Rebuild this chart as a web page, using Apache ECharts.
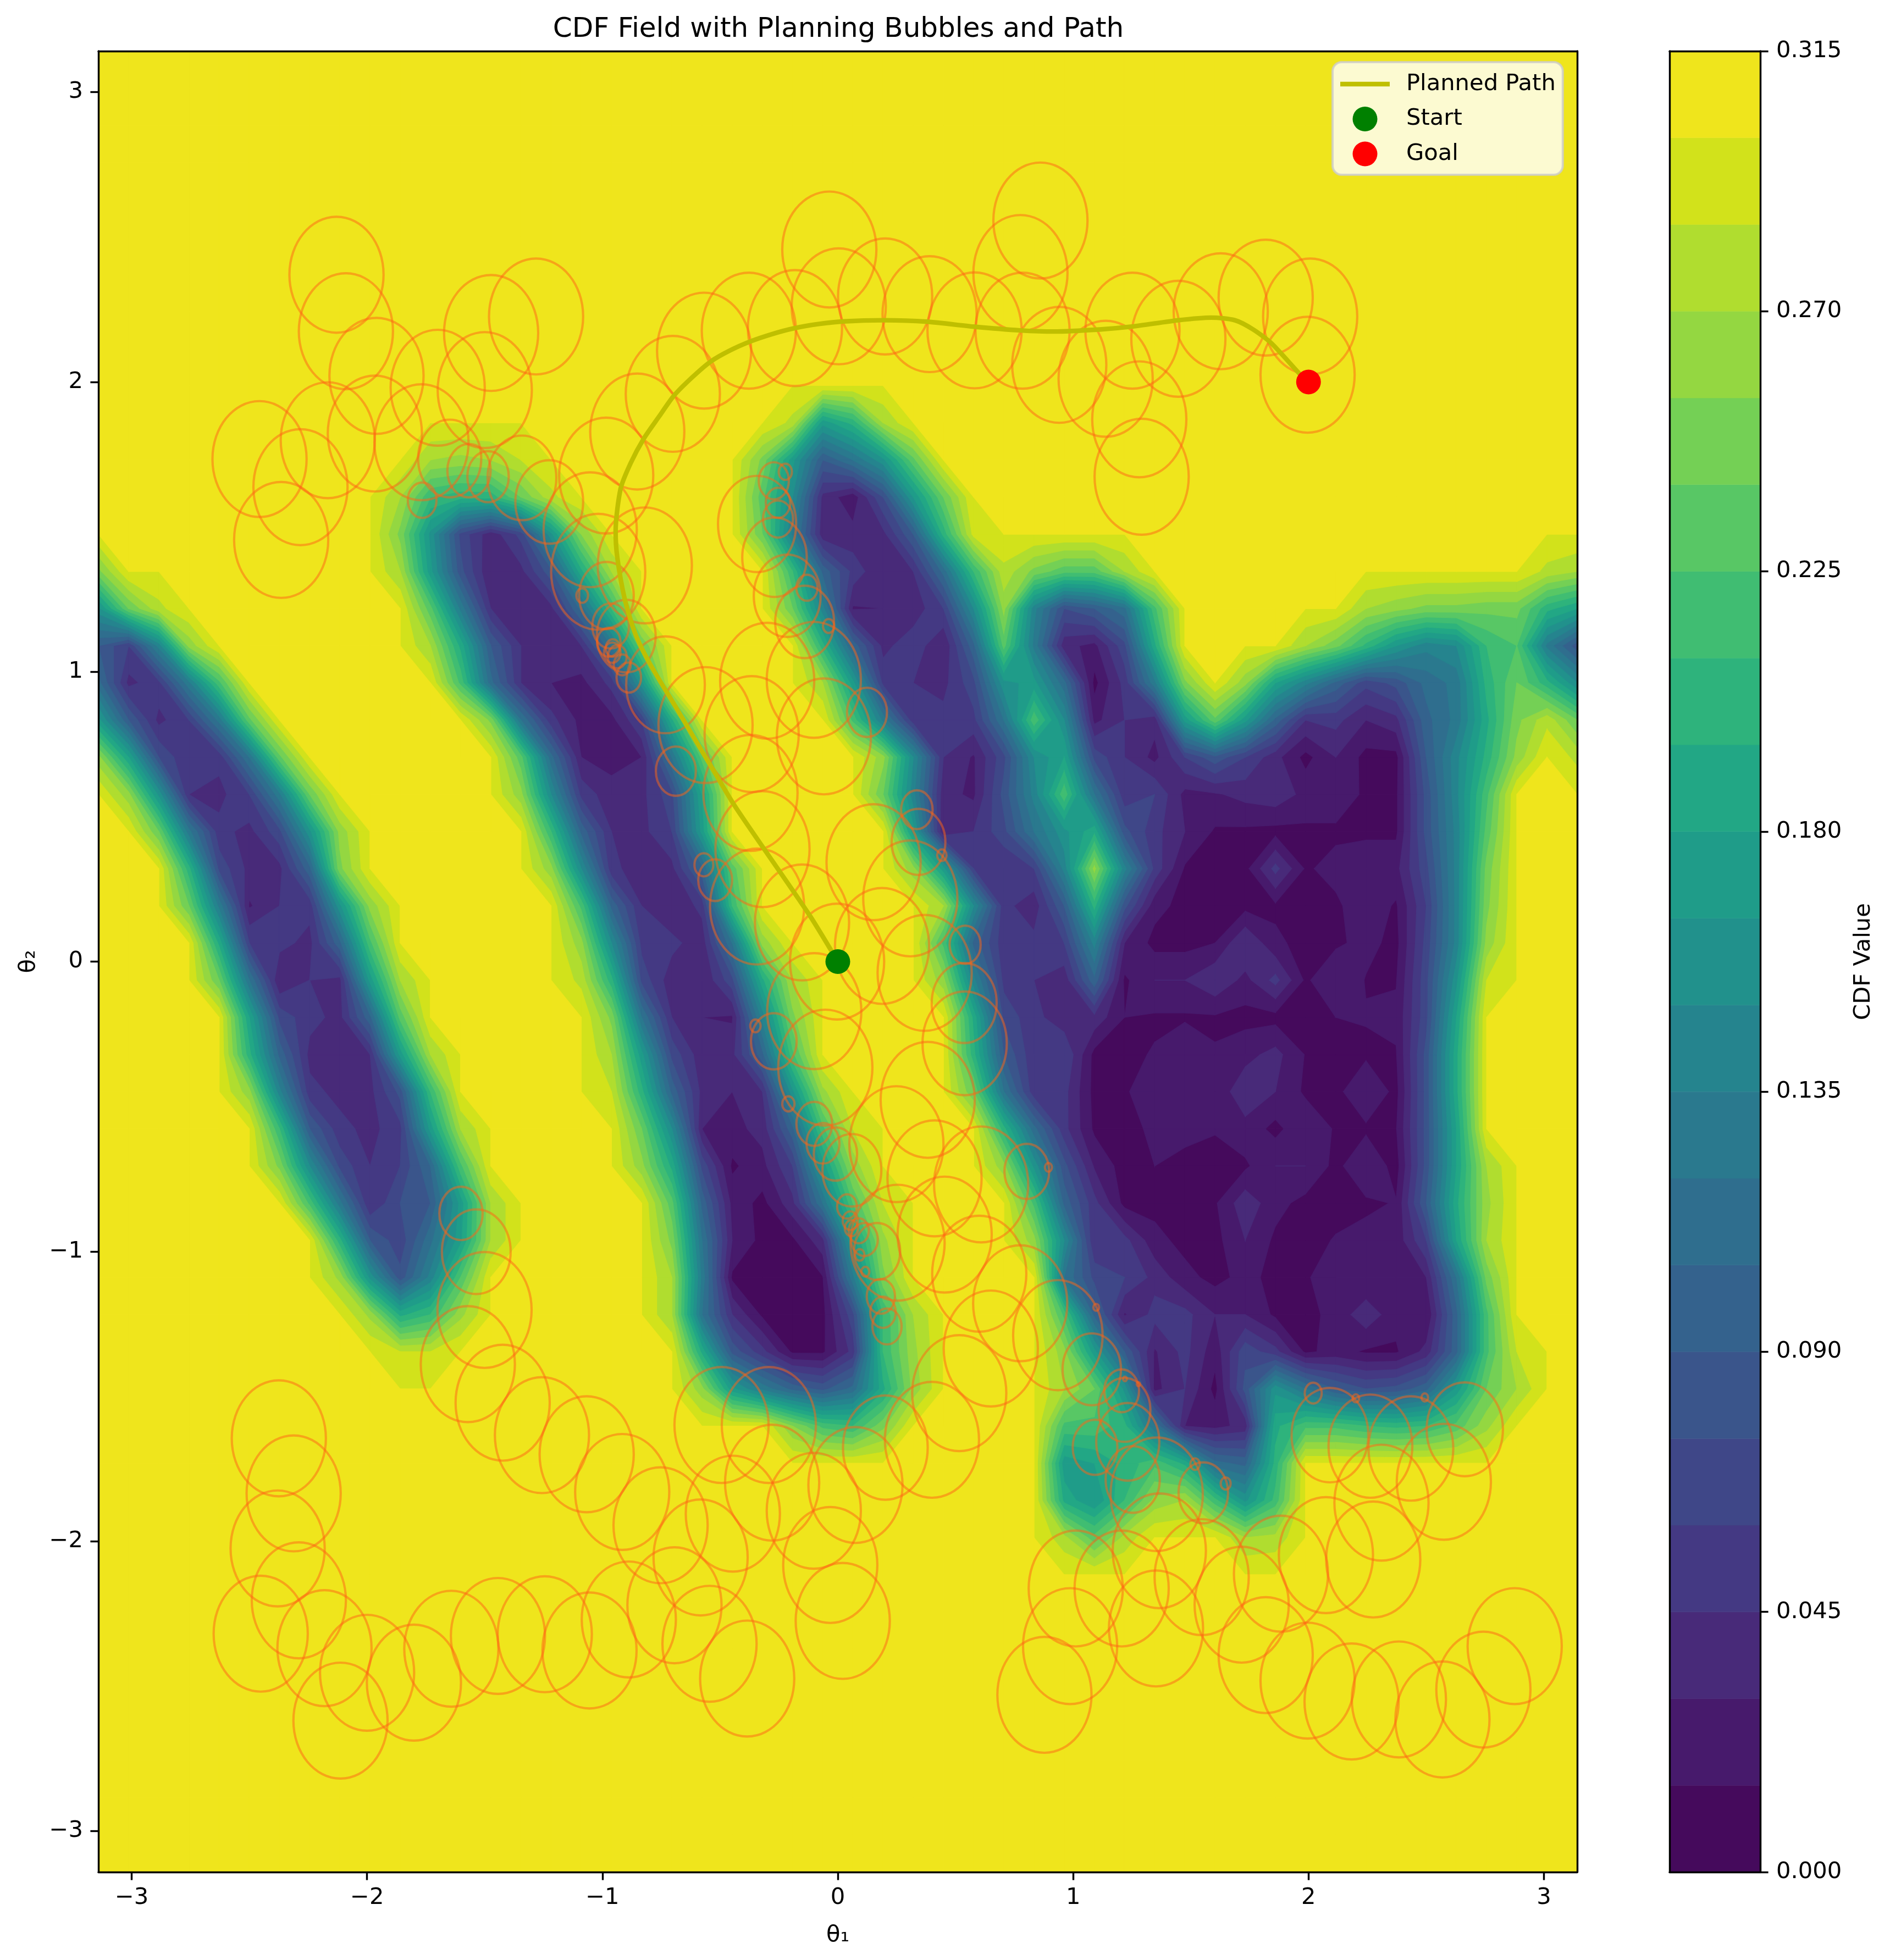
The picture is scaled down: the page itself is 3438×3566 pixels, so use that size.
<!DOCTYPE html>
<html><head><meta charset="utf-8"><style>html,body{margin:0;padding:0;background:#fff}#c{width:3438px;height:3566px}</style>
<script src="https://cdn.jsdelivr.net/npm/echarts@6/dist/echarts.min.js"></script></head><body><div id="c"></div>
<script>
// CDF field, in units of 0.01. Grid is 50x50 over [-pi,pi]^2.
// Each row lists runs [firstColumn, v, v, ...]; every other node sits at the saturation value.
const saturation = 30;
const r09=[[32,27.5,23,27.5],[38,27,27.5]];
const r10=[[32,19,16.5,21,26,27,21.5,16,21.5]];
const r11=[[32,17,18,20,22,19,11,10,20]];
const r12=[[23,25.5,22,21,25],[32,22,22,20,12,3,2.5,3.5,19,22,22,21,20.5,21,23,26.5]];
const r13=[[20,26,17,13,10,8.5,11,19,26],[32,27,24,16,2.5,4.5,1,8,16,12,9,7.5,8,10,17,24,27]];
const r14=[[10,28.5,28.5],[20,19,8.5,5,1.2,1.2,5,21,26.5],[32,26,17,9,2.8,5,2,7,5,1.2,2,1.3,1.3,3.5,10,22,28.5]];
const r15=[[9,26.5,19,21,26.5],[19,27,12,4.5,1.2,1,1,7,21,27],[32,22,10,2.8,5,5,3,3,1.2,1,2,4,2,1.5,10,22]];
const r16=[[8,26.5,16,8,14,22.5],[19,27,13,1.2,1,1,1.4,13,25],[32,12,7,6,4,2,1,2,1,1.2,3,1.5,2,3,12,24.5]];
const r17=[[8,20,9,6.5,11.5,17.5,27],[19,25,12,3,1,1.2,4,17,26.5],[31,26,15,4.5,5,2,1,1,3,1.2,1,1.6,2,2,6,18,27]];
const r18=[[7,22,12.5,4.5,7.5,9,17,27],[19,23,10,2.5,1,4,12,22.5,28.5],[31,22,10,5,1,1,1,1.3,4,2,1,1,1.2,1.6,9,19,26.5]];
const r19=[[6,25,15,7,4.5,6,10.5,22],[18,26,19,7,1.2,2.5,6,17,26],[30,26,16,8,2.8,.8,1.5,1,1,1.2,3,3,1,3,.8,8,18,27]];
const r20=[[6,21,9,5,4,5.5,17,27],[18,24,15,3,2.5,3.5,10,22,28.5],[30,20,11,5,1.2,1,1.8,2,1.6,2.5,1,2.8,1.3,1.2,1.4,8,18]];
const r21=[[5,26,14,5,4,4,8,21],[17,28.5,20,10,4,3,4.5,16,26.5],[29,24,12,5,5,1,1.2,3,2,2,4,3,1.2,1,3,1,8,19]];
const r22=[[5,20,10,4,3.5,4.5,17,27],[17,27,17,7,3.5,4,10,22],[29,20,9,4.8,6,1,1.2,1.6,2.8,1.6,2.5,3.5,1.4,1,1.2,1.4,8,19]];
const r23=[[5,18,7,5,4,10,23],[17,25,12,4.5,3,2.8,14,25],[29,19,7,5,3.5,4,1.5,1.3,1.3,1.3,1,1,1,1.5,1.6,1.8,7,18]];
const r24=[[4,24,12,3,4.5,4,17,27],[16,28,20,7,3.5,3,7,19,27],[28,26,14,5.5,4.5,3.5,10,1.2,3,3,4.3,2.5,5,1.2,3,1.4,1.4,7,16,28.5]];
const r25=[[4,19,6,5,4,10,22],[16,26,15,5.5,5,3.5,12,26],[28,22,10,5,5,6,14,3,1,1,1.5,4.5,1.8,1,1.2,2,1,6.5,14,26]];
const r26=[[3,24,13,2.8,4.5,5,16,26],[16,22,10,4.5,3,5,21],[28,27,15,5,3.5,9,20,8,2,1,1,1,1.2,1,1.2,2.5,1.3,6,14,25]];
const r27=[[3,20,7,4,4,10,25],[15,26,15,5,3.5,4,10,23],[27,26,17,6,4.5,6,14,26,14,5.5,1.3,1,1,5,1.3,2,2.5,2.5,7,14,24.5]];
const r28=[[2,24,12.5,5,4,7,16,26],[15,21,10,4.5,4,6,17],[27,17,3,4.5,7,12,16,19,8,5,3,1.3,1.2,1,1.2,1.2,1.2,1.2,8,14,23]];
const r29=[[1,26,16,4.5,4,6,13,24],[14,26,15,5.5,3.5,4,7,18],[26,24,14,3.5,2.7,8,14,22,12,5,6,2.5,2.8,3.5,4,2.5,2.5,1.2,1.2,8,14.5,22]];
const r30=[[0,26,18,7.5,4.5,5,12,23.5],[14,23,11,3,2.5,3,12,23],[26,26,15,4.5,2.8,7,15,18,7,4.5,2.5,6,8.5,6,3.5,1,3,1,1,9,14.5,20,26],[49,28]];
const r31=[[0,17,9,4,6,12.5,23.5],[13,25,12,5,2.5,2.5,6,19],[25,22,13,5,5,5.5,12,22,15,2.5,4.5,3.5,17,23.5,17,10,4.5,5,3,4,10,12.5,19,25,28,24]];
const r32=[[0,11,4,5.5,13,22],[12,22,11,4.5,3,2.5,5,16],[24,27,17,5.5,4.5,4,7,16,17,11,1,5,13,25],[38,26,18,14,10,6.5,8,11,12.5,20,24,20,15]];
const r33=[[0,9,6,14,26],[11,27,19,9,4.5,3,4.5,12,24],[24,20,10,4,5.5,3,10,23,13,3.5,2.5,7,19],[40,27,24.5,20.5,16.5,14,15,21,22.5,13,8]];
const r34=[[0,16,24,28],[11,23,13,4.5,4,4,11,21],[23,24,14,2.8,3,3.5,6,15,26,14,7.5,9,11.5,22],[42,27,26,25,25,24.5,24.5,20,18]];
const r35=[[0,25],[10,27,17,8,3,4,8.5,19,27],[23,21,10,5.5,3,4.5,11,21,28,25,23,23,27],[48,28,27]];
const r36=[[10,25,16,7,3.5,6.5,16,25.5],[22,24,13,3.5,3.5,4,9,20,29]];
const r37=[[10,27,21,20,20,24,28],[22,23,15,4,2,7.5,16.5,24]];
const r38=[[11,27,26.5,27,28.5],[22,25,17,9,12,16,23.5]];
const r39=[[23,28,17,20,27]];
const fieldRows={9:r09,10:r10,11:r11,12:r12,13:r13,14:r14,15:r15,16:r16,17:r17,18:r18,19:r19,20:r20,21:r21,22:r22,23:r23,24:r24,25:r25,26:r26,27:r27,28:r28,29:r29,30:r30,31:r31,32:r32,33:r33,34:r34,35:r35,36:r36,37:r37,38:r38,39:r39};

// Contour levels (units of 0.01) and the colour of the band starting at each level.
const bandColors=['#450a5c','#471a6c','#482a79','#443983','#3f4788','#3a558b','#34628d','#2f6e8e','#2a798e','#25848e','#21918c','#1f9c89','#22a785','#2eb37c','#40bd72','#58c765','#74d055','#94d741','#b0dd2f','#d2e21b','#efe51c'];
const levelStep=1.5;

// Path
const pathT1=[0,-.12,-.322,-.44,-.541,-.69,-.8,-.86,-.905,-.937,-.944,-.923,-.88,-.824,-.76,-.697,-.62,-.541,-.46,-.371,-.28,-.187,-.08,.025,.195,.379,.577,.775,.917,1.112,1.249,1.447,1.588,1.687,1.765,1.843,1.97,2];
const pathT2=[0,.16,.399,.54,.677,.88,1.03,1.13,1.25,1.395,1.485,1.631,1.72,1.805,1.88,1.952,2.015,2.07,2.108,2.14,2.165,2.185,2.2,2.209,2.213,2.208,2.191,2.178,2.174,2.181,2.191,2.213,2.222,2.213,2.181,2.133,2.021,2];
const startPoint=[0,0];
const goalPoint=[2,2];

// Bubbles: [theta1, theta2, radius]
const bubbles=[
[-2.13,2.37,.2],[-2.09,2.175,.2],[-1.96,2.021,.2],[-1.7,1.98,.2],[-1.473,2.169,.2],[-1.282,2.226,.2],[-1.5,1.972,.2],[-1.967,1.822,.2],[-2.167,1.799,.2],[-2.457,1.734,.2],[-2.283,1.637,.2],[-2.365,1.455,.2],[-1.769,1.792,.2],
[-1.649,1.736,.134],[-1.567,1.694,.092],[-1.486,1.673,.088],[-1.766,1.592,.061],[-1.342,1.669,.146],[-1.226,1.586,.144],[-1.052,1.49,.198],
[-.036,2.457,.2],[.861,2.557,.2],[.776,2.376,.2],[.201,2.295,.2],[.004,2.261,.2],[.39,2.234,.2],[-.182,2.186,.2],[.581,2.178,.2],[.785,2.177,.2],[-.378,2.177,.2],[-.568,2.108,.2],[-.701,1.959,.2],[.941,2.059,.2],[-.852,1.829,.2],[-.984,1.677,.2],
[-.82,1.367,.2],[-1.018,1.345,.2],[-.983,1.263,.116],[-.965,1.158,.078],[-.899,1.123,.125],[-1.086,1.263,.025],[-.973,1.102,.05],[-.956,1.082,.03],[-.937,1.052,.04],
[-.343,1.51,.166],[-.272,1.659,.064],[-.223,1.69,.028],[-.254,1.583,.052],[-.254,1.527,.064],[-.269,1.395,.137],[-.215,1.262,.142],[-.131,1.29,.045],[-.141,1.172,.125],[-.039,1.158,.024],
[1.252,2.177,.2],[1.447,2.149,.2],[1.627,2.244,.2],[1.818,2.291,.2],[2.007,2.226,.2],[1.996,2.025,.2],[1.138,2.011,.2],[1.281,1.871,.2],[1.291,1.673,.2],
[-.732,.955,.167],[-.562,.816,.2],[-.3,.969,.2],[-.102,.972,.2],[-.366,.785,.2],[-.059,.777,.2],[-.371,.582,.2],[-.32,.388,.2],[-.343,.19,.2],[.152,.343,.2],[.308,.218,.2],[-.152,.135,.2],[-.003,0,.2],[-.1,-.171,.2],[.188,.054,.2],[.369,-.039,.2],[-.053,-.366,.2],
[.537,-.143,.138],[.539,-.282,.179],[.382,-.477,.2],[.249,-.63,.2],[.411,-.748,.2],[.609,-.769,.2],[.454,-.942,.2],[.803,-.724,.095],[.895,-.71,.015],[.254,-.97,.2],[.601,-1.077,.2],
[.336,.524,.067],[.343,.413,.114],[.442,.367,.02],[.541,.058,.066],[.124,.86,.085],[-.688,.657,.085],[-.888,.98,.052],[-.916,1.024,.036],[-.958,1.066,.035],[-.569,.334,.04],[-.521,.281,.072],[-.272,-.275,.097],[-.35,-.222,.022],[-.21,-.491,.026],[-.1,-.56,.076],[-.063,-.627,.07],[-.01,-.664,.092],[.06,-.72,.125],[.039,-.845,.042],[.053,-.894,.032],[.058,-.92,.028],[.089,-.929,.043],[.113,-.959,.057],[.167,-1,.098],[.093,-1.012,.02],[.117,-1.07,.017],
[.183,-1.155,.06],[.192,-1.21,.054],[.209,-1.259,.062],[.65,-1.335,.2],[.775,-1.179,.2],[.516,-1.489,.2],[.4,-1.65,.2],[.202,-1.677,.18],[.075,-1.806,.2],[-.102,-1.895,.2],[-.293,-1.599,.2],[-.494,-1.599,.2],[-.279,-1.798,.2],[-.446,-1.905,.2],[-.583,-2.056,.2],[-.753,-1.945,.2],[-.916,-1.83,.2],[-1.067,-1.7,.2],[-.032,-2.082,.2],[.021,-2.275,.2],[-.694,-2.221,.2],[-.888,-2.27,.2],[-.545,-2.354,.2],[-.385,-2.474,.2],[-1.055,-2.377,.2],[1.011,-2.163,.2],[.987,-2.362,.2],[.878,-2.53,.2],[.935,-1.289,.19],[1.079,-1.407,.124],[1.093,-1.676,.095],[1.098,-1.193,.012],
[-1.601,-.869,.092],[-1.536,-1.001,.146],[-1.501,-1.202,.2],[-1.572,-1.389,.2],[-1.424,-1.522,.2],[-1.257,-1.634,.2],[-2.375,-1.645,.2],[-2.312,-1.835,.2],[-2.38,-2.025,.2],[-2.29,-2.204,.2],[-2.452,-2.319,.2],[-2.181,-2.369,.2],[-2,-2.454,.2],[-2.113,-2.619,.2],[-1.801,-2.488,.2],[-1.642,-2.371,.2],[-1.444,-2.327,.2],[-1.245,-2.321,.2],
[2.876,-2.362,.2],[2.743,-2.512,.2],[2.569,-2.615,.2],[2.384,-2.546,.2],[2.183,-2.553,.2],[1.996,-2.481,.2],[1.818,-2.393,.2],[1.716,-2.219,.2],[1.883,-2.112,.2],[2.074,-2.048,.2],[2.275,-2.063,.2],[2.31,-1.867,.2],[2.575,-1.795,.2],[2.664,-1.614,.162],[2.435,-1.68,.18],[2.263,-1.672,.178],[2.091,-1.634,.163],[2.02,-1.489,.036],[2.201,-1.507,.014],[2.494,-1.504,.014],[1.553,-1.833,.105],[1.518,-1.734,.02],[1.648,-1.801,.021],[1.355,-1.838,.196],[1.366,-2.033,.198],[1.546,-2.124,.2],[1.206,-2.163,.2],[1.352,-2.301,.2],[1.206,-1.481,.074],[1.218,-1.547,.11],[1.232,-1.657,.134],[1.253,-1.787,.115],[1.277,-1.458,.007],[1.22,-1.44,.008]
];

// ---- build node grid
const N=50, PI=Math.PI, step=2*PI/(N-1);
const nodes=[];
for(let j=0;j<N;j++){const row=new Array(N).fill(saturation);(fieldRows[j]||[]).forEach(run=>{for(let k=1;k<run.length;k++)row[run[0]+k-1]=run[k];});nodes.push(row);}
const cells=[];
for(let j=0;j<N-1;j++)for(let i=0;i<N-1;i++){cells.push([-PI+i*step,-PI+j*step,nodes[j][i],nodes[j][i+1],nodes[j+1][i+1],nodes[j+1][i]]);}
// one piece per (band, cell), lowest band first so later bands paint on top
const pieces=[];
bandColors.forEach((col,k)=>{const L=k*levelStep;cells.forEach(c=>{const vals=c.slice(2),lo=Math.min(...vals),hi=Math.max(...vals);
  if(hi<L)return; if(lo>=L+levelStep&&k<bandColors.length-1)return; pieces.push(c.concat(k));});});

function clipCell(x0,y0,vals,L){ // corners in order (0,0),(1,0),(1,1),(0,1)
  const cx=[x0,x0+step,x0+step,x0],cy=[y0,y0,y0+step,y0+step];
  const inside=vals.map(v=>v>=L);
  const cnt=inside.filter(Boolean).length;
  if(cnt===0)return [];
  const cross=(a,b)=>{const t=(L-vals[a])/(vals[b]-vals[a]);return [cx[a]+t*(cx[b]-cx[a]),cy[a]+t*(cy[b]-cy[a])];};
  const saddle=cnt===2&&inside[0]===inside[2];
  const mid=(vals[0]+vals[1]+vals[2]+vals[3])/4;
  if(saddle&&mid<L){const out=[];for(let a=0;a<4;a++){if(inside[a]){const p=(a+3)%4,n=(a+1)%4;out.push([cross(p,a),[cx[a],cy[a]],cross(a,n)]);}}return out;}
  const poly=[];
  for(let a=0;a<4;a++){const b=(a+1)%4;if(inside[a])poly.push([cx[a],cy[a]]);if(inside[a]!==inside[b])poly.push(cross(a,b));}
  return [poly];
}

const FONT='DejaVu Sans';
const spine={show:true,onZero:false,lineStyle:{color:'#000',width:3.4}};
const lineOnly={axisTick:{show:false},axisLabel:{show:false},splitLine:{show:false},axisLine:spine,z:10};
const intTicks=[-3,-2,-1,0,1,2,3];
const fmt=v=>v<0?'\u2212'+(-v):String(v);
const chart=echarts.init(document.getElementById('c'),null,{renderer:'canvas',devicePixelRatio:1,width:3438,height:3566});
const G0={left:179,top:93,width:2690,height:3313,show:false};
const G1={left:3037,top:93,width:165,height:3313,show:false};
const option={
 animation:false,backgroundColor:'#fff',
 textStyle:{fontFamily:FONT},
 title:{text:'CDF Field with Planning Bubbles and Path',left:1520,top:24,textAlign:'center',textStyle:{fontFamily:FONT,fontSize:50,fontWeight:'normal',color:'#000'}},
 grid:[G0,G1],
 xAxis:[
  {gridIndex:0,type:'value',position:'bottom',min:-PI,max:PI,z:10,axisLine:spine,splitLine:{show:false},
   axisTick:{show:true,length:14.6,lineStyle:{color:'#000',width:3.4},customValues:intTicks},
   axisLabel:{show:true,margin:26,fontSize:41.67,color:'#000',fontFamily:FONT,customValues:intTicks,formatter:fmt},
   name:'\u03b8\u2081',nameLocation:'middle',nameGap:94,nameTextStyle:{fontSize:41.67,color:'#000',fontFamily:FONT}},
  {gridIndex:0,type:'value',position:'top',min:-PI,max:PI,...lineOnly},
  {gridIndex:1,type:'value',position:'bottom',min:0,max:1,...lineOnly},
  {gridIndex:1,type:'value',position:'top',min:0,max:1,...lineOnly}],
 yAxis:[
  {gridIndex:0,type:'value',position:'left',min:-PI,max:PI,z:10,axisLine:spine,splitLine:{show:false},
   axisTick:{show:true,length:14.6,lineStyle:{color:'#000',width:3.4},customValues:intTicks},
   axisLabel:{show:true,margin:28,padding:[5,0,0,0],fontSize:41.67,color:'#000',fontFamily:FONT,customValues:intTicks,formatter:fmt},
   name:'\u03b8\u2082',nameLocation:'middle',nameGap:106,nameRotate:90,nameTextStyle:{fontSize:41.67,color:'#000',fontFamily:FONT}},
  {gridIndex:0,type:'value',position:'right',min:-PI,max:PI,...lineOnly},
  {gridIndex:1,type:'value',position:'right',min:0,max:.315,interval:.045,z:10,axisLine:spine,splitLine:{show:false},
   axisTick:{show:true,length:14.6,lineStyle:{color:'#000',width:3.4}},
   axisLabel:{show:true,margin:29,padding:[5,0,0,0],fontSize:41.67,color:'#000',fontFamily:FONT,formatter:v=>v.toFixed(3)},
   name:'CDF Value',nameLocation:'middle',nameGap:167,nameRotate:90,nameTextStyle:{fontSize:41.67,color:'#000',fontFamily:FONT}},
  {gridIndex:1,type:'value',position:'left',min:0,max:.315,...lineOnly}],
 legend:{show:true,z:20,left:2424,top:113,orient:'vertical',
  data:[{name:'Planned Path',icon:'path://M0 18.3H90V26.7H0Z M0 0H0V45H0Z'},{name:'Start',icon:'circle'},{name:'Goal',icon:'circle'}],
  itemWidth:90,itemHeight:45,itemGap:18.5,
  padding:[17.5,13,15.5,14],backgroundColor:'rgba(255,255,255,0.8)',borderColor:'rgba(204,204,204,0.8)',borderWidth:4.17,borderRadius:16.7,
  textStyle:{fontFamily:FONT,fontSize:41.67,color:'#000',padding:[0,0,0,25]}},
 series:[
  {type:'custom',name:'CDF',xAxisIndex:0,yAxisIndex:0,z:1,silent:true,clip:true,coordinateSystem:'cartesian2d',
   data:pieces,encode:{x:0,y:1},progressive:0,
   renderItem:(params,api)=>{
    const x0=api.value(0),y0=api.value(1),vals=[api.value(2),api.value(3),api.value(4),api.value(5)],k=api.value(6);
    const L=k*levelStep;
    const polys=k===0?[[[x0,y0],[x0+step,y0],[x0+step,y0+step],[x0,y0+step]]]:clipCell(x0,y0,vals,L);
    return {type:'group',children:polys.map(poly=>({type:'polygon',shape:{points:poly.map(p=>api.coord(p))},style:{fill:bandColors[k],stroke:bandColors[k],lineWidth:1.2}}))};
   }},
  {type:'custom',name:'Bubbles',xAxisIndex:0,yAxisIndex:0,z:3,silent:true,data:bubbles,encode:{x:0,y:1},progressive:0,
   renderItem:(params,api)=>{
    const c=api.coord([api.value(0),api.value(1)]),s=api.size([api.value(2),api.value(2)]);
    return {type:'ellipse',shape:{cx:c[0],cy:c[1],rx:s[0],ry:s[1]},style:{fill:'none',stroke:'rgba(255,100,20,0.5)',lineWidth:4.17}};
   }},
  {type:'line',name:'Planned Path',xAxisIndex:0,yAxisIndex:0,z:4,silent:true,data:pathT1.map((x,i)=>[x,pathT2[i]]),smooth:.25,symbol:'none',showSymbol:false,
   lineStyle:{color:'#bfbf00',width:8.33},itemStyle:{color:'#bfbf00',opacity:1}},
  {type:'scatter',name:'Start',xAxisIndex:0,yAxisIndex:0,z:5,silent:true,data:[startPoint],symbol:'circle',symbolSize:45,itemStyle:{color:'#008000',opacity:1}},
  {type:'scatter',name:'Goal',xAxisIndex:0,yAxisIndex:0,z:5,silent:true,data:[goalPoint],symbol:'circle',symbolSize:45,itemStyle:{color:'#ff0000',opacity:1}},
  {type:'custom',name:'Colorbar',xAxisIndex:2,yAxisIndex:2,z:2,silent:true,data:bandColors.map((c,k)=>[k*levelStep/100,(k+1)*levelStep/100]),encode:{y:[0,1]},
   renderItem:(params,api)=>{
    const a=api.coord([0,api.value(0)]),b=api.coord([1,api.value(1)]);
    const col=bandColors[params.dataIndex];
    return {type:'rect',shape:{x:a[0],y:b[1],width:b[0]-a[0],height:a[1]-b[1]},style:{fill:col,stroke:col,lineWidth:.6}};
   }}
 ]
};
chart.setOption(option);
</script></body></html>
